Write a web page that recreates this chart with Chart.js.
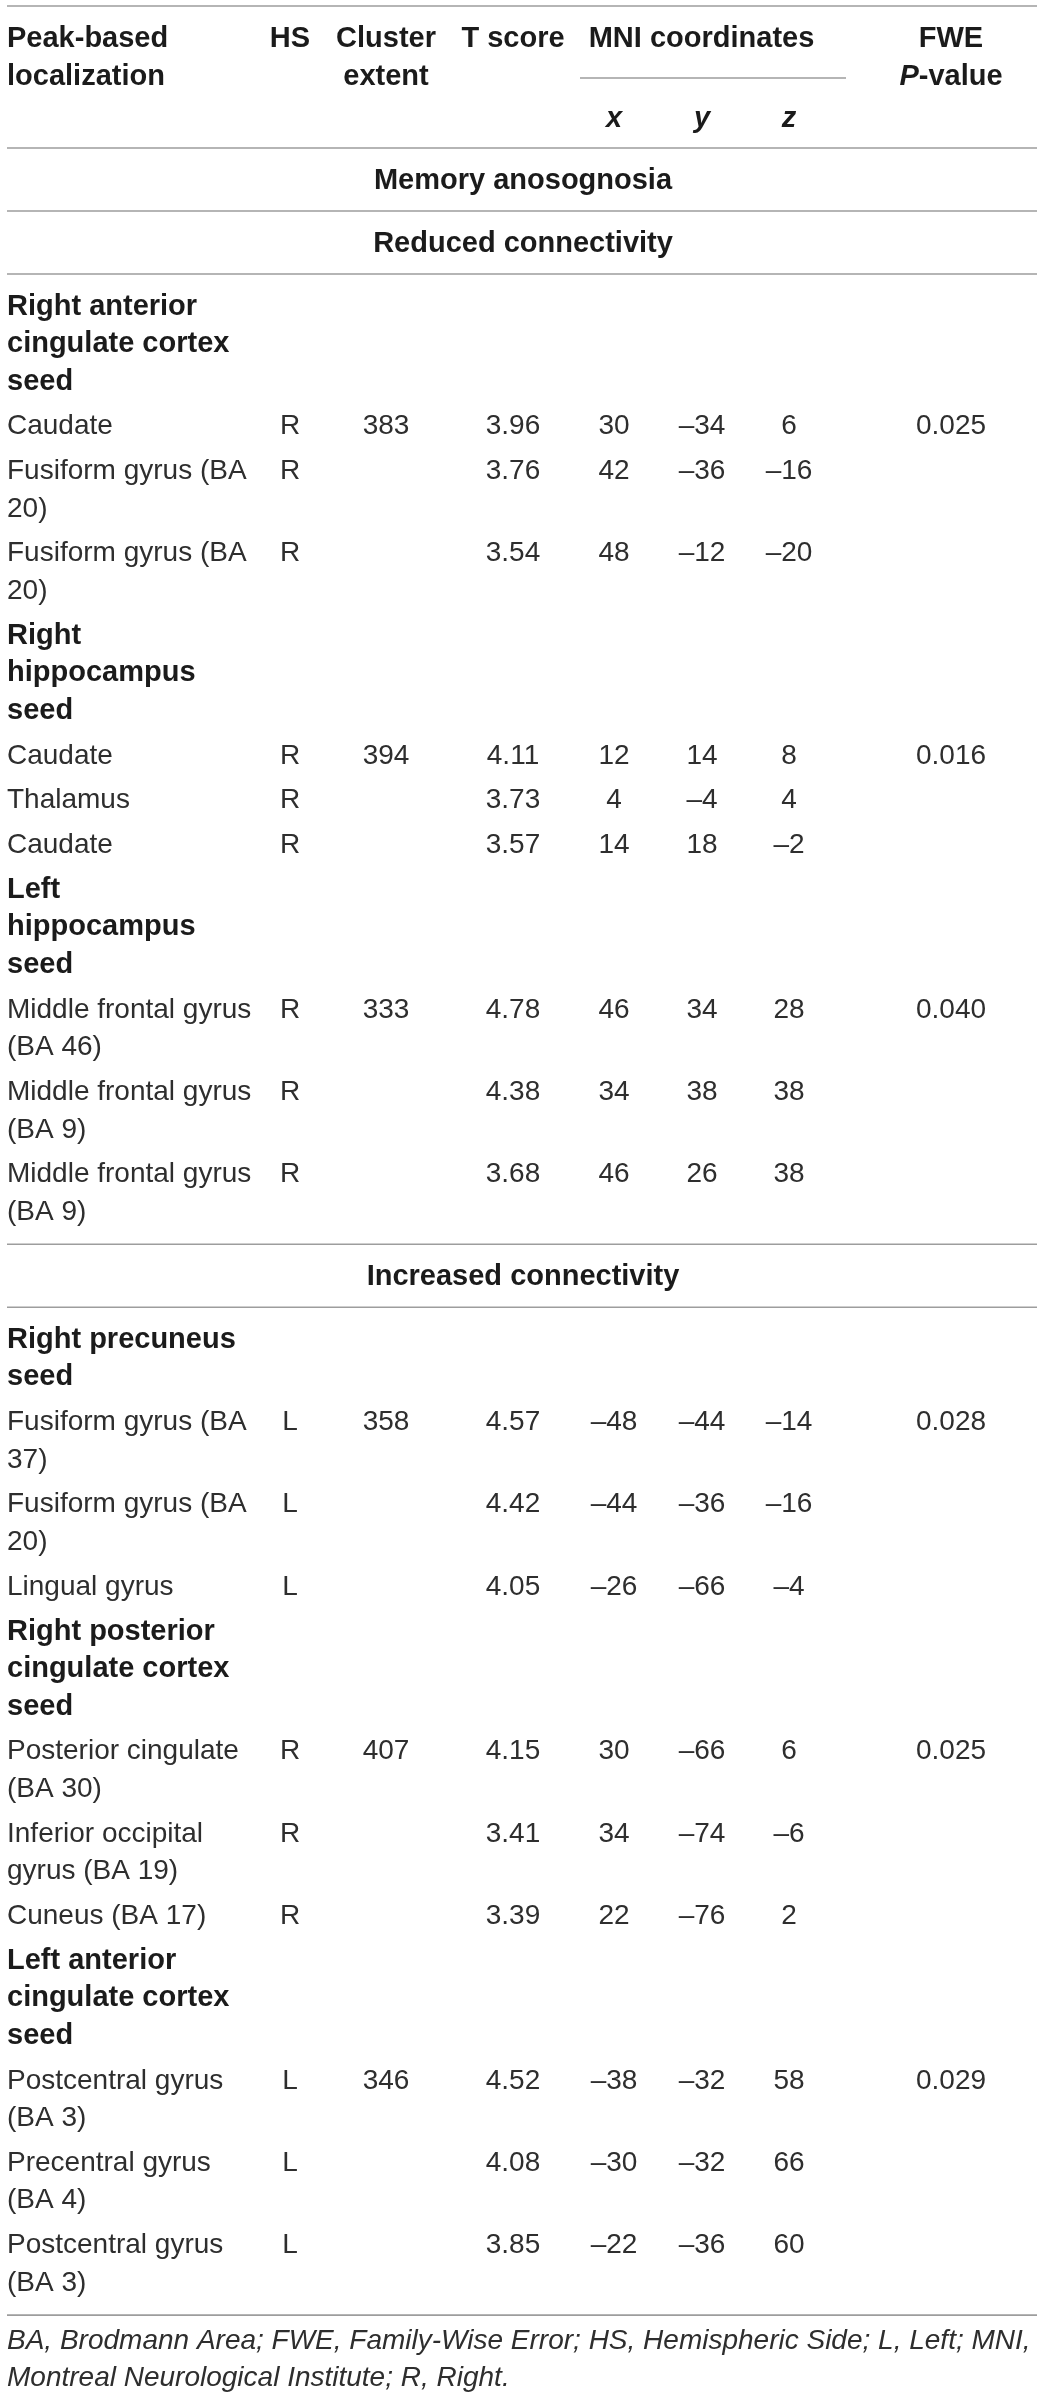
<!DOCTYPE html>
<html>
<head>
<meta charset="utf-8">
<title>Memory anosognosia – seed connectivity</title>
<script src="https://cdn.jsdelivr.net/npm/chart.js@4.4.1/dist/chart.umd.min.js"></script>
<style>
  html, body { margin: 0; padding: 0; background: #fff; }
  #tableChart { display: block; }
</style>
</head>
<body>
<canvas id="tableChart" width="1040" height="2396"></canvas>
<script>
// table content
const headerTitles = ['Peak-based\nlocalization', 'HS', 'Cluster\nextent', 'T score', 'MNI coordinates'];
const coordAxes = ['x', 'y', 'z'];
const studyTitle = 'Memory anosognosia';
const effectTitles = ['Reduced connectivity', 'Increased connectivity'];
const seedNames = [
  'Right anterior\ncingulate cortex\nseed',
  'Right\nhippocampus\nseed',
  'Left\nhippocampus\nseed',
  'Right precuneus\nseed',
  'Right posterior\ncingulate cortex\nseed',
  'Left anterior\ncingulate cortex\nseed'
];
const seedEffect = [0, 0, 0, 1, 1, 1];
const regionNames = [
  'Caudate', 'Fusiform gyrus (BA\n20)', 'Fusiform gyrus (BA\n20)',
  'Caudate', 'Thalamus', 'Caudate',
  'Middle frontal gyrus\n(BA 46)', 'Middle frontal gyrus\n(BA 9)', 'Middle frontal gyrus\n(BA 9)',
  'Fusiform gyrus (BA\n37)', 'Fusiform gyrus (BA\n20)', 'Lingual gyrus',
  'Posterior cingulate\n(BA 30)', 'Inferior occipital\ngyrus (BA 19)', 'Cuneus (BA 17)',
  'Postcentral gyrus\n(BA 3)', 'Precentral gyrus\n(BA 4)', 'Postcentral gyrus\n(BA 3)'
];
const regionSeed = [0, 0, 0, 1, 1, 1, 2, 2, 2, 3, 3, 3, 4, 4, 4, 5, 5, 5];
const hemisphere = ['R', 'R', 'R', 'R', 'R', 'R', 'R', 'R', 'R', 'L', 'L', 'L', 'R', 'R', 'R', 'L', 'L', 'L'];
const clusterExtent = [383, null, null, 394, null, null, 333, null, null, 358, null, null, 407, null, null, 346, null, null];
const tScore = [3.96, 3.76, 3.54, 4.11, 3.73, 3.57, 4.78, 4.38, 3.68, 4.57, 4.42, 4.05, 4.15, 3.41, 3.39, 4.52, 4.08, 3.85];
const mniX = [30, 42, 48, 12, 4, 14, 46, 34, 46, -48, -44, -26, 30, 34, 22, -38, -30, -22];
const mniY = [-34, -36, -12, 14, -4, 18, 34, 38, 26, -44, -36, -66, -66, -74, -76, -32, -32, -36];
const mniZ = [6, -16, -20, 8, 4, -2, 28, 38, 38, -14, -16, -4, 6, -6, 2, 58, 66, 60];
const fweP = [0.025, null, null, 0.016, null, null, 0.040, null, null, 0.028, null, null, 0.025, null, null, 0.029, null, null];
const footnote = [
  'BA, Brodmann Area; FWE, Family-Wise Error; HS, Hemispheric Side; L, Left; MNI,',
  'Montreal Neurological Institute; R, Right.'
];

// layout
const W = 1040, H = 2396;
const COL = { name: 7, hs: 290, cluster: 386, t: 513, x: 614, y: 702, z: 789, p: 951, mid: 523 };
const LINE = 37.5, GAP = 7.3;
const FAMILY = '"Liberation Sans", Arial, Helvetica, sans-serif';
const FONTS = {
  bold: 'bold 29px ' + FAMILY,
  boldItalic: 'italic bold 29px ' + FAMILY,
  regular: '28px ' + FAMILY,
  italic: 'italic 28px ' + FAMILY
};
const COLORS = { bold: '#1b1b1b', boldItalic: '#1b1b1b', regular: '#2e2e2e', italic: '#2e2e2e' };
const RULE_COLOR = '#9d9d9d';

const fmt = v => (v == null ? '' : v < 0 ? '\u2013' + Math.abs(v) : String(v));

const cells = [];
const rules = [];
function addText(x, y, runs, align) {
  if (typeof runs === 'string') runs = [{ t: runs, s: 'regular' }];
  cells.push({ x, y, runs, align });
}
function addLines(x, y, text, style, align) {
  text.split('\n').forEach((line, i) => addText(x, y + i * LINE, [{ t: line, s: style }], align));
  return text.split('\n').length;
}

// header block
rules.push({ y: 6, x0: 7, x1: 1037, w: 1.6 });
const headBase = 47, headLine = 38;
const headX = [COL.name, COL.hs, COL.cluster, COL.t, (COL.x + COL.z) / 2];
headerTitles.forEach((t, i) => {
  t.split('\n').forEach((line, j) =>
    addText(headX[i], headBase + j * headLine, [{ t: line, s: 'bold' }], i === 0 ? 'left' : 'center'));
});
addText(COL.p, headBase, [{ t: 'FWE', s: 'bold' }], 'center');
addText(COL.p, headBase + headLine, [{ t: 'P', s: 'boldItalic' }, { t: '-value', s: 'bold' }], 'center');
rules.push({ y: 78, x0: 580, x1: 846, w: 1.3 });
coordAxes.forEach((a, i) => addText([COL.x, COL.y, COL.z][i], 127, [{ t: a, s: 'boldItalic' }], 'center'));

let cursor = 148;
rules.push({ y: cursor, x0: 7, x1: 1037, w: 1.6 });

function titleRow(text) {
  const b = cursor + 41;
  addText(COL.mid, b, [{ t: text, s: 'bold' }], 'center');
  cursor = b + 22;
  rules.push({ y: cursor, x0: 7, x1: 1037, w: 1.6 });
}

titleRow(studyTitle);
effectTitles.forEach((title, e) => {
  if (e > 0) titleRow(title); else titleRow(title);
  let b = cursor + 40.5, last = b;
  seedNames.forEach((seed, s) => {
    if (seedEffect[s] !== e) return;
    const n = addLines(COL.name, b, seed, 'bold', 'left');
    last = b + (n - 1) * LINE;
    b += n * LINE + GAP;
    regionSeed.forEach((rs, r) => {
      if (rs !== s) return;
      const m = addLines(COL.name, b, regionNames[r], 'regular', 'left');
      addText(COL.hs, b, hemisphere[r], 'center');
      if (clusterExtent[r] != null) addText(COL.cluster, b, String(clusterExtent[r]), 'center');
      addText(COL.t, b, tScore[r].toFixed(2), 'center');
      addText(COL.x, b, fmt(mniX[r]), 'center');
      addText(COL.y, b, fmt(mniY[r]), 'center');
      addText(COL.z, b, fmt(mniZ[r]), 'center');
      if (fweP[r] != null) addText(COL.p, b, fweP[r].toFixed(3), 'center');
      last = b + (m - 1) * LINE;
      b += m * LINE + GAP;
    });
  });
  cursor = last + 24.5;
  rules.push({ y: cursor, x0: 7, x1: 1037, w: 1.6 });
});

footnote.forEach((line, i) => addText(COL.name, cursor + 34 + i * 37, [{ t: line, s: 'italic' }], 'left'));

// drawing
const tablePlugin = {
  id: 'tablePlugin',
  afterDraw(chart) {
    const { ctx } = chart;
    const xs = chart.scales.x, ys = chart.scales.y;
    ctx.save();
    ctx.strokeStyle = RULE_COLOR;
    rules.forEach(r => {
      const py = ys.getPixelForValue(r.y);
      ctx.lineWidth = r.w;
      ctx.beginPath();
      ctx.moveTo(xs.getPixelForValue(r.x0), py);
      ctx.lineTo(xs.getPixelForValue(r.x1), py);
      ctx.stroke();
    });
    ctx.textBaseline = 'alphabetic';
    ctx.textAlign = 'left';
    const data = chart.data.datasets[0].data;
    chart.getDatasetMeta(0).data.forEach((pt, i) => {
      const cell = data[i];
      let total = 0;
      cell.runs.forEach(run => { ctx.font = FONTS[run.s]; run.w = ctx.measureText(run.t).width; total += run.w; });
      let px = cell.align === 'center' ? pt.x - total / 2 : pt.x;
      cell.runs.forEach(run => {
        ctx.font = FONTS[run.s];
        ctx.fillStyle = COLORS[run.s];
        ctx.fillText(run.t, px, pt.y);
        px += run.w;
      });
    });
    ctx.restore();
  }
};

new Chart(document.getElementById('tableChart'), {
  type: 'scatter',
  data: {
    datasets: [{
      label: 'cells',
      data: cells,
      pointRadius: 0,
      pointHoverRadius: 0
    }]
  },
  options: {
    responsive: false,
    animation: false,
    events: [],
    layout: { padding: 0 },
    plugins: { legend: { display: false }, tooltip: { enabled: false } },
    scales: {
      x: { type: 'linear', min: 0, max: W, display: false },
      y: { type: 'linear', min: 0, max: H, reverse: true, display: false }
    }
  },
  plugins: [tablePlugin]
});
</script>
</body>
</html>
